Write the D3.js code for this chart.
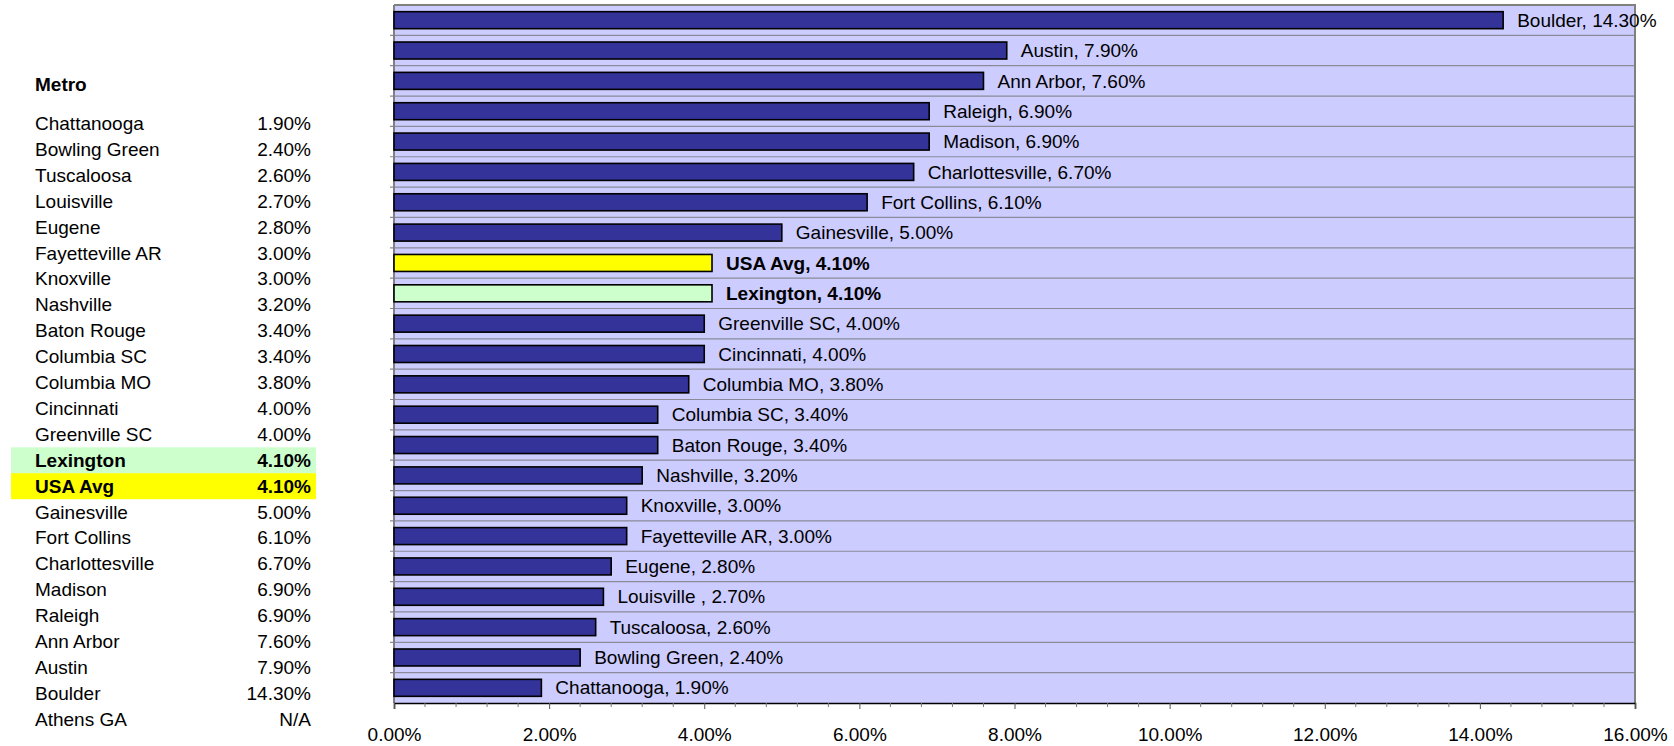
<!DOCTYPE html>
<html>
<head>
<meta charset="utf-8">
<script src="https://cdn.jsdelivr.net/npm/d3@7"></script>
<style>
  html, body { margin: 0; padding: 0; background: #ffffff; }
  svg { display: block; font-family: "Liberation Sans", Arial, sans-serif; }
</style>
</head>
<body>
<svg id="chart" width="1674" height="746"></svg>
<script>
// ---- data ----
const tableHeader = "Metro";
const tableNames = ["Chattanooga", "Bowling Green", "Tuscaloosa", "Louisville", "Eugene",
  "Fayetteville AR", "Knoxville", "Nashville", "Baton Rouge", "Columbia SC", "Columbia MO",
  "Cincinnati", "Greenville SC", "Lexington", "USA Avg", "Gainesville", "Fort Collins",
  "Charlottesville", "Madison", "Raleigh", "Ann Arbor", "Austin", "Boulder", "Athens GA"];
const tableValues = ["1.90%", "2.40%", "2.60%", "2.70%", "2.80%", "3.00%", "3.00%", "3.20%",
  "3.40%", "3.40%", "3.80%", "4.00%", "4.00%", "4.10%", "4.10%", "5.00%", "6.10%", "6.70%",
  "6.90%", "6.90%", "7.60%", "7.90%", "14.30%", "N/A"];
const tableHighlight = { "Lexington": "#CCFFCC", "USA Avg": "#FFFF00" };

// chart categories, bottom to top
const chartNames = ["Chattanooga", "Bowling Green", "Tuscaloosa", "Louisville ", "Eugene",
  "Fayetteville AR", "Knoxville", "Nashville", "Baton Rouge", "Columbia SC", "Columbia MO",
  "Cincinnati", "Greenville SC", "Lexington", "USA Avg", "Gainesville", "Fort Collins",
  "Charlottesville", "Madison", "Raleigh", "Ann Arbor", "Austin", "Boulder"];
const chartValues = [1.9, 2.4, 2.6, 2.7, 2.8, 3.0, 3.0, 3.2, 3.4, 3.4, 3.8, 4.0, 4.0, 4.1, 4.1,
  5.0, 6.1, 6.7, 6.9, 6.9, 7.6, 7.9, 14.3];
const xTicks = [0, 2, 4, 6, 8, 10, 12, 14, 16];

// ---- layout ----
const svg = d3.select("#chart");
const FONT = 19;
const plot = { left: 394, right: 1635, top: 5, bottom: 703 };

const x = d3.scaleLinear().domain([0, 16]).range([plot.left, plot.right]);
const y = d3.scaleBand()
  .domain(chartNames.slice().reverse())
  .range([plot.top, plot.bottom])
  .paddingInner(0.44).paddingOuter(0.22);

// ---- table ----
const rowY = d3.scaleLinear().domain([0, 1]).range([130, 130 + 25.9]);
const tbl = svg.append("g");
tbl.append("text").attr("x", 35).attr("y", 90.7)
  .attr("font-size", FONT).attr("font-weight", "bold").attr("fill", "#000").text(tableHeader);
tableNames.forEach((n, i) => {
  const by = rowY(i);
  const hl = tableHighlight[n];
  if (hl) {
    tbl.append("rect").attr("x", 11).attr("y", by - 19.4).attr("width", 305).attr("height", 26)
      .attr("fill", hl);
  }
  tbl.append("text").attr("x", 35).attr("y", by).attr("font-size", FONT)
    .attr("font-weight", hl ? "bold" : "normal").attr("fill", "#000").text(n);
  tbl.append("text").attr("x", 311).attr("y", by).attr("font-size", FONT)
    .attr("text-anchor", "end")
    .attr("font-weight", hl ? "bold" : "normal").attr("fill", "#000").text(tableValues[i]);
});

// ---- plot background ----
svg.append("rect").attr("x", plot.left).attr("y", plot.top)
  .attr("width", plot.right - plot.left).attr("height", plot.bottom - plot.top)
  .attr("fill", "#CCCCFF");

// gridlines at band boundaries
const step = y.step();
const boundaries = d3.range(1, chartNames.length).map(i => plot.top + i * step);
svg.append("g").selectAll("line").data(boundaries).join("line")
  .attr("x1", plot.left - 4).attr("x2", plot.right)
  .attr("y1", d => d).attr("y2", d => d)
  .attr("stroke", "#8a8a9a").attr("stroke-width", 1.2);

// plot border: top and right
svg.append("path")
  .attr("d", `M${plot.left},${plot.top}H${plot.right}V${plot.bottom}`)
  .attr("fill", "none").attr("stroke", "#808080").attr("stroke-width", 2);
// left axis
svg.append("line").attr("x1", plot.left).attr("x2", plot.left)
  .attr("y1", plot.top).attr("y2", plot.bottom)
  .attr("stroke", "#808080").attr("stroke-width", 2);

// ---- bars ----
const colorFor = n => n === "USA Avg" ? "#FFFF00" : (n === "Lexington" ? "#CCFFCC" : "#333399");
const bold = n => n === "USA Avg" || n === "Lexington";
const data = chartNames.map((n, i) => ({ name: n, value: chartValues[i] }));

svg.append("g").selectAll("rect").data(data).join("rect")
  .attr("x", x(0))
  .attr("y", d => y(d.name))
  .attr("width", d => x(d.value) - x(0))
  .attr("height", y.bandwidth())
  .attr("fill", d => colorFor(d.name))
  .attr("stroke", "#000").attr("stroke-width", 1.6);

svg.append("g").selectAll("text").data(data).join("text")
  .attr("x", d => x(d.value) + 14)
  .attr("y", d => y(d.name) + y.bandwidth() / 2)
  .attr("dy", "0.35em")
  .attr("font-size", FONT)
  .attr("font-weight", d => bold(d.name) ? "bold" : "normal")
  .attr("fill", "#000")
  .text(d => `${d.name}, ${d.value.toFixed(2)}%`);

// ---- x axis ----
const xAxis = d3.axisBottom(x)
  .tickValues(xTicks)
  .tickFormat(d => d.toFixed(2) + "%")
  .tickSize(6).tickPadding(19);
const gx = svg.append("g").attr("transform", `translate(0,${plot.bottom})`).call(xAxis);
gx.select(".domain").attr("stroke", "#000").attr("stroke-width", 1.6);
gx.selectAll(".tick line").attr("stroke", "#555");
gx.selectAll(".tick text").attr("font-size", FONT).attr("fill", "#000")
  .attr("font-family", '"Liberation Sans", Arial, sans-serif');
// minor ticks
const minor = d3.range(0, 16.001, 0.4).filter(v => Math.abs(v / 2 - Math.round(v / 2)) > 1e-6);
svg.append("g").selectAll("line").data(minor).join("line")
  .attr("x1", d => x(d)).attr("x2", d => x(d))
  .attr("y1", plot.bottom).attr("y2", plot.bottom + 4)
  .attr("stroke", "#777").attr("stroke-width", 1);
</script>
</body>
</html>
